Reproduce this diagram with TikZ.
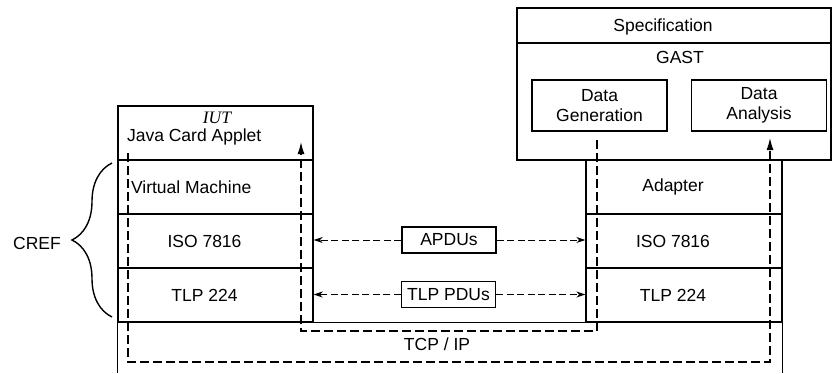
\documentclass[tikz,border=0pt]{standalone}
\usepackage{fontspec}
\setmainfont{Liberation Sans}
\newfontfamily\iutfont{Liberation Serif}
\usetikzlibrary{arrows.meta,decorations.pathreplacing}

\begin{document}
\begin{tikzpicture}[x=1pt,y=-1pt,line width=1.4pt,node distance=54pt,
  font=\fontsize{17.5}{20}\selectfont,
  layer/.style={draw,minimum width=195pt,minimum height=54pt,inner sep=0pt},
  subbox/.style={draw,minimum width=135pt,minimum height=51pt,align=center,inner sep=0pt},
  pdu/.style={draw,minimum width=94pt,minimum height=26pt,inner sep=0pt},
  flow/.style={line width=1.2pt,dash pattern=on 9pt off 4pt,-{Latex[length=12pt,width=7pt]}},
  msg/.style={dash pattern=on 7pt off 3.5pt,line width=1pt,-{Stealth[length=9pt,width=6pt]}}]

\useasboundingbox (0,0) rectangle (832,373);
\coordinate (bottom) at (0,373);
\coordinate (specline) at (0,43);

% card side
\node[layer](applet) at (215.5,133){};
\node[layer](vmL)[below of=applet]{};
\node[layer,label={[xshift=-11pt]center:ISO 7816}](isoL)[below of=vmL]{};
\node[layer,label={[xshift=-11pt]center:TLP 224}](tlpL)[below of=isoL]{};
\node(iut) at (217,118){\iutfont\itshape IUT};
\node[anchor=west](jca) at (123,137){Java Card Applet};
\node[anchor=west](vm) at (127,187){Virtual Machine};

% tester side
\node[draw,minimum width=314pt,minimum height=152pt](spec) at (674,84){};
\draw (spec.west |- specline) -- (spec.east |- specline);
\node(spectxt) at (663,27){Specification};
\node(gast) at (680,57){GAST};
\node[subbox](dgen) at (599.5,105.5){Data\\Generation};
\node[subbox](dana) at (759,105.5){Data\\Analysis};
\node[layer,minimum width=196pt,label={[xshift=-11pt]center:Adapter}](adapt) at (684,187){};
\node[layer,minimum width=196pt,label={[xshift=-11pt]center:ISO 7816}](isoR)[below of=adapt]{};
\node[layer,minimum width=196pt,label={[xshift=-11pt]center:TLP 224}](tlpR)[below of=isoR]{};

% TCP / IP layer
\draw (tlpL.south west |- bottom) -- (tlpL.south west) -- (tlpR.south east) -- (tlpR.south east |- bottom);
\node(tcp) at (437,344){TCP / IP};

% messages
\node[pdu](apdu) at (449,240){APDUs};
\node[pdu](tpdu) at (448.5,294.5){TLP PDUs};
\draw[msg] (apdu.west) -- (apdu.west -| isoL.east);
\draw[msg] (apdu.east) -- (apdu.east -| isoR.west);
\draw[msg] (tpdu.west) -- (tpdu.west -| tlpL.east);
\draw[msg] (tpdu.east) -- (tpdu.east -| tlpR.west);

% data flows
\coordinate (genout) at (597,140);
\coordinate (appin) at (301,142);
\coordinate (vmout) at (128,153);
\coordinate (anain) at (770,138);
\draw[flow] (genout) -- ++(0,191) -| (appin);
\draw[flow] (vmout) -- ++(0,209) -| (anain);

% CREF
\draw[decorate,decoration={brace,amplitude=40pt}] (112,317) -- (112,163);
\node(cref) at (37,243){CREF};

\end{tikzpicture}
\end{document}
